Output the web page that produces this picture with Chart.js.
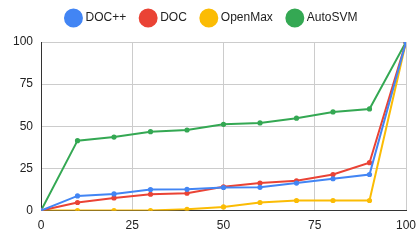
<!DOCTYPE html>
<html lang="en">
<head>
<meta charset="UTF-8">
<title>DOC++ vs AutoSVM</title>
<script src="https://cdn.jsdelivr.net/npm/chart.js"></script>
<style>
  html, body { margin: 0; padding: 0; background: #fff; }
  #wrap { width: 420px; height: 242px; }
</style>
</head>
<body>
<div id="wrap"><canvas id="myChart"></canvas></div>
<script>
// x positions of the samples
const xs = [0, 10, 20, 30, 40, 50, 60, 70, 80, 90, 100];

// series values
const docpp   = [0, 8.7, 9.9, 12.5, 12.6, 13.7, 13.8, 16.3, 18.9, 21.4, 100];
const doc     = [0, 4.8, 7.5, 9.7, 10.3, 14.1, 16.3, 17.7, 21.4, 28.4, 100];
const openmax = [0, 0, 0, 0, 0.8, 2.2, 4.8, 6.0, 6.0, 6.0, 100];
const autosvm = [0, 41.5, 43.6, 46.8, 47.8, 51.2, 52.0, 54.8, 58.5, 60.3, 100];

const tickValues = [0, 25, 50, 75, 100];

const fontFam = '"Liberation Sans", Arial, sans-serif';

function pts(vals) {
  return xs.map((x, i) => ({ x: x, y: vals[i] }));
}

function series(label, vals, color) {
  return {
    label: label,
    data: pts(vals),
    borderColor: color,
    backgroundColor: color,
    borderWidth: 2,
    pointRadius: 1.6,
    pointHoverRadius: 3,
    tension: 0
  };
}

// extra space under the legend
const legendGap = {
  id: 'legendGap',
  beforeInit(chart) {
    const fit = chart.legend.fit;
    chart.legend.fit = function () {
      fit.call(this);
      this.height += 8;
    };
  }
};

new Chart(document.getElementById('myChart').getContext('2d'), {
  type: 'line',
  data: {
    datasets: [
      series('DOC++', docpp, '#4285f4'),
      series('DOC', doc, '#ea4335'),
      series('OpenMax', openmax, '#fbbc04'),
      series('AutoSVM', autosvm, '#34a853')
    ]
  },
  plugins: [legendGap],
  options: {
    responsive: true,
    maintainAspectRatio: false,
    animation: false,
    layout: { padding: { left: 5, right: 0, top: -4, bottom: 1 } },
    plugins: {
      legend: {
        position: 'top',
        labels: {
          usePointStyle: true,
          pointStyle: 'circle',
          boxWidth: 12,
          boxHeight: 12,
          padding: 16,
          color: '#222',
          font: { family: fontFam, size: 12 }
        }
      },
      tooltip: { enabled: false }
    },
    scales: {
      x: {
        type: 'linear',
        min: 0,
        max: 100,
        afterBuildTicks: s => { s.ticks = tickValues.map(v => ({ value: v })); },
        afterFit: s => { s.paddingRight = 14; },
        grid: { color: '#cccccc', drawTicks: false },
        border: { color: '#333', width: 1 },
        ticks: { color: '#222', padding: 8, font: { family: fontFam, size: 12 } }
      },
      y: {
        min: 0,
        max: 100,
        afterBuildTicks: s => { s.ticks = tickValues.map(v => ({ value: v })); },
        afterFit: s => { s.width = 36; },
        grid: { color: '#cccccc', drawTicks: false },
        border: { color: '#333', width: 1 },
        ticks: { color: '#222', padding: 8, font: { family: fontFam, size: 12 } }
      }
    }
  }
});
</script>
</body>
</html>
